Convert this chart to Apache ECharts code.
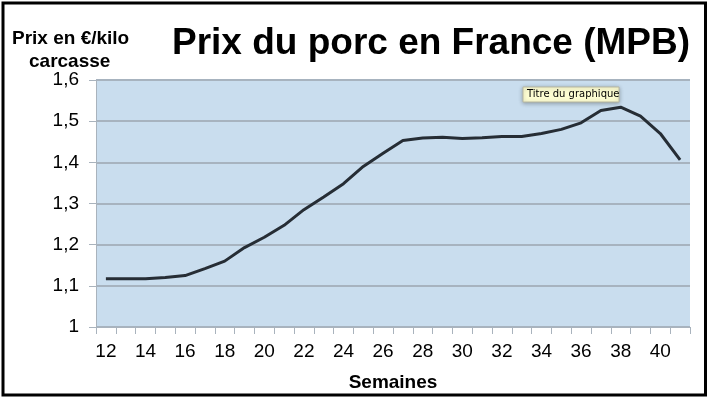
<!DOCTYPE html>
<html>
<head>
<meta charset="utf-8">
<script src="https://cdn.jsdelivr.net/npm/echarts@6/dist/echarts.min.js"></script>
<style>
  html, body { margin: 0; padding: 0; background: #fff; }
  #chart { width: 709px; height: 399px; }
</style>
</head>
<body>
<div id="chart"></div>
<script>
// semaines 12 -> 41
const weeks = [12, 13, 14, 15, 16, 17, 18, 19, 20, 21, 22, 23, 24, 25, 26,
  27, 28, 29, 30, 31, 32, 33, 34, 35, 36, 37, 38, 39, 40, 41]
// prix en €/kilo carcasse
const prices = [1.117, 1.117, 1.117, 1.12, 1.125, 1.142, 1.16, 1.193, 1.218, 1.247,
  1.285, 1.316, 1.348, 1.39, 1.422, 1.453, 1.459, 1.461, 1.458, 1.46,
  1.463, 1.463, 1.47, 1.48, 1.496, 1.526, 1.534, 1.512, 1.47, 1.406]
const yMin = 1
const yMax = 1.6
const yStep = 0.1

const font = '"Liberation Sans", Arial, sans-serif'
const chart = echarts.init(document.getElementById('chart'), null, { renderer: 'canvas' })

chart.setOption({
  animation: false,
  textStyle: { fontFamily: font },
  title: {
    text: 'Prix du porc en France (MPB)',
    left: 172,
    top: 25,
    padding: 0,
    textStyle: { fontSize: 37, fontWeight: 'bold', color: '#000', fontFamily: font }
  },
  grid: {
    left: 96, right: 19, top: 80, bottom: 72,
    show: true,
    backgroundColor: '#c9ddee',
    borderWidth: 0
  },
  xAxis: {
    type: 'category',
    data: weeks,
    boundaryGap: true,
    name: 'Semaines',
    nameLocation: 'middle',
    nameGap: 46,
    nameTextStyle: { fontSize: 19, fontWeight: 'bold', color: '#000', fontFamily: font },
    axisLine: { lineStyle: { color: '#a9b3bd', width: 1 } },
    axisTick: { show: true, interval: 0, length: 7, lineStyle: { color: '#a9b3bd' } },
    axisLabel: { interval: 1, fontSize: 19, color: '#000', margin: 15, fontFamily: font },
    splitLine: { show: false }
  },
  yAxis: {
    type: 'value',
    min: yMin,
    max: yMax,
    interval: yStep,
    axisLine: { show: true, lineStyle: { color: '#a9b3bd', width: 1 } },
    axisTick: { show: true, length: 7, lineStyle: { color: '#a9b3bd' } },
    axisLabel: {
      fontSize: 19, color: '#000', margin: 17, fontFamily: font,
      formatter: v => String(+v.toFixed(1)).replace('.', ',')
    },
    splitLine: { lineStyle: { color: '#a7b3bf', width: 2 } }
  },
  series: [{
    type: 'line',
    data: prices,
    symbol: 'none',
    smooth: false,
    lineStyle: { color: '#262d35', width: 3 }
  }],
  graphic: [
    {
      type: 'text',
      left: 12, top: 29,
      style: {
        text: 'Prix en €/kilo',
        font: 'bold 19px ' + font,
        fill: '#000'
      }
    },
    {
      type: 'text',
      left: 29, top: 52,
      style: {
        text: 'carcasse',
        font: 'bold 19px ' + font,
        fill: '#000'
      }
    },
    {
      type: 'rect',
      shape: { x: 523, y: 87, width: 96, height: 15 },
      style: {
        fill: '#fdfdd2', stroke: '#b8b8a0', lineWidth: 1,
        shadowBlur: 4, shadowColor: 'rgba(0,0,0,0.3)', shadowOffsetY: 1
      },
      z: 10
    },
    {
      type: 'text',
      x: 527, y: 89,
      style: { text: 'Titre du graphique', font: '10px "DejaVu Sans", sans-serif', fill: '#000' },
      z: 11
    },
    {
      type: 'rect',
      shape: { x: 3, y: 3, width: 702.5, height: 392 },
      style: { fill: 'none', stroke: '#000', lineWidth: 3 },
      z: 20
    }
  ]
})
</script>
</body>
</html>
